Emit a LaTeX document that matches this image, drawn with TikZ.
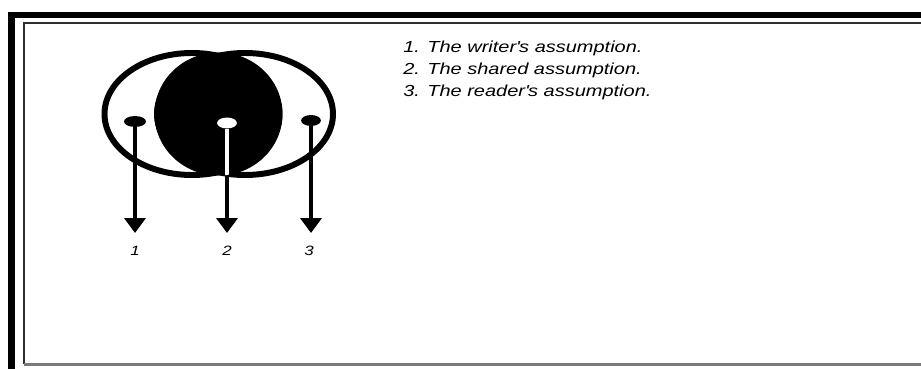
\documentclass[tikz,border=0pt]{standalone}
\usepackage{fontspec}
\usetikzlibrary{arrows.meta,positioning,shapes.geometric}
\newfontfamily\notefont[FakeStretch=1.25]{Liberation Sans}
\definecolor{framedark}{HTML}{2E2E2E}
\definecolor{framegray}{HTML}{7A7A7A}
\tikzset{
  note/.style={font=\notefont\itshape\fontsize{9.1}{12.5}\selectfont,anchor=base west,inner sep=0pt},
  num/.style={font=\notefont\itshape\fontsize{7.7}{9}\selectfont,anchor=base,inner sep=0pt},
  ring/.style={draw=black,line width=3.4pt},
  dot/.style={ellipse,minimum width=11.3pt,minimum height=6.2pt,inner sep=0pt},
  arr/.style={-{Triangle[length=0.3cm,width=0.42cm]},draw=black,line width=2.65pt},
  thickframe/.style={line width=3.7pt,line join=miter},
  thinframe/.style={line width=1.15pt}
}

\begin{document}
\begin{tikzpicture}[x=0.02cm,y=0.02cm]
\path[use as bounding box] (0,0) rectangle (921,369);
\clip (0,0) rectangle (921,369);
% frames
\draw[thickframe] (11.5,-10) -- (11.5,354) -- (935,354);
\draw[thinframe,draw=framedark] (24,4.5) -- (24,346) -- (935,346);
\draw[thinframe,draw=framegray] (23.5,4.5) -- (935,4.5);

% the two views and the common part
\draw[ring] (192,255) ellipse [x radius=87.5,y radius=61];
\draw[ring] (245,255) ellipse [x radius=88,y radius=61];
\fill (218.5,255) ellipse [x radius=64,y radius=61.5];

% pins and arrows
\node[dot,fill=black,minimum width=12.5pt] (d1) at (135,247.5) {};
\node[dot,fill=white] (d2) at (227,246) {};
\node[dot,fill=black] (d3) at (311,248.5) {};
\coordinate (t1) at (135,136);
\coordinate (t2) at (227,136);
\coordinate (t3) at (311,136);
\draw[arr] (d1) -- (t1);
\draw[arr] (d2) -- (t2);
\draw[arr] (d3) -- (t3);
\begin{scope}
\clip (218.5,255) ellipse [x radius=64,y radius=61.5];
\draw[white,line width=2.65pt] (d2) -- (t2);
\end{scope}
\foreach \i/\x in {1/135,2/227,3/309}
  \node[num] (n\i) at (\x,113) {\i};

% legend
\foreach \i/\txt in {1/{The writer\textquotesingle s assumption.},2/{The shared assumption.},3/{The reader\textquotesingle s assumption.}}
  \node[note] (line\i) at (403,{338.7-22*\i}) {\makebox[0.48cm][l]{\i.}\txt};
\end{tikzpicture}
\end{document}
